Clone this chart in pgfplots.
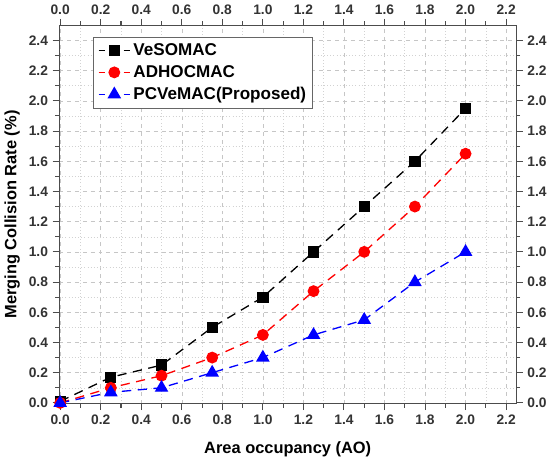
\documentclass[border=0pt]{standalone}
\usepackage{pgfplots}
\pgfplotsset{compat=1.18}
\usepackage{fontspec}
\setmainfont{Liberation Sans}
\begin{document}
\begin{tikzpicture}
\pgfplotsset{
  common/.style={
    scale only axis,
    width=348pt, height=288pt,
    xmin=-0.005, xmax=2.25, ymin=-0.005, ymax=2.5,
    xtick={0,0.2,...,2.21}, ytick={0,0.2,...,2.41},
    minor x tick num=1, minor y tick num=1,
    tick align=outside,
    major tick length=5pt, minor tick length=3pt,
    /pgf/number format/assume math mode=true,
    /pgf/number format/.cd, fixed, fixed zerofill, precision=1, /pgfplots/.cd,
    tick label style={font=\bfseries\fontsize{10.5}{12}\selectfont, text=black!80},
    axis line style={black!70, line width=0.9pt},
    tick style={black!70, line width=0.8pt},
  }
}
\begin{axis}[common,
  axis x line*=bottom, axis y line*=left,
  grid=both,
  major grid style={gray!45, dashed, line width=0.4pt},
  minor grid style={gray!35, dotted, line width=0.4pt},
  xlabel={\bfseries Area occupancy (AO)},
  ylabel={\bfseries Merging Collision Rate (\%)},
  label style={font=\bfseries\fontsize{12.5}{14}\selectfont},
  xlabel style={yshift=-6pt},
  ylabel style={yshift=0pt},
  legend style={at={(0.075,0.97)}, anchor=north west, draw=black!60, line width=0.6pt,
     font=\bfseries\fontsize{13}{15}\selectfont, row sep=2pt, inner sep=3pt},
  legend cell align=left,
  legend image code/.code={
    \draw[#1, solid, line width=1.2pt] (0pt,0pt) -- (5pt,0pt);
    \draw[#1, solid, line width=1.2pt] (19pt,0pt) -- (24pt,0pt);
    \draw[#1, draw=none] plot coordinates {(12pt,0pt)};
  },
]
\addplot[black, line width=1pt, dash pattern=on 7pt off 5pt, mark=square*, mark size=3.8pt, mark options={solid, fill=black}]
 coordinates {(0,0.01)(0.25,0.17)(0.5,0.25)(0.75,0.5)(1,0.7)(1.25,1.0)(1.5,1.3)(1.75,1.6)(2,1.95)};
\addlegendentry{VeSOMAC}
\addplot[red, line width=1pt, dash pattern=on 7pt off 5pt, mark=*, mark size=4pt, mark options={solid, fill=red}]
 coordinates {(0,0)(0.25,0.1)(0.5,0.18)(0.75,0.3)(1,0.45)(1.25,0.74)(1.5,1.0)(1.75,1.3)(2,1.65)};
\addlegendentry{ADHOCMAC}
\addplot[blue, line width=1pt, dash pattern=on 7pt off 5pt, mark=triangle*, mark size=5pt, mark options={solid, fill=blue}]
 coordinates {(0,0)(0.25,0.07)(0.5,0.1)(0.75,0.2)(1,0.3)(1.25,0.45)(1.5,0.55)(1.75,0.8)(2,1.0)};
\addlegendentry{PCVeMAC(Proposed)}
\end{axis}
\begin{axis}[common,
  axis x line*=top, axis y line*=right,
]
\addplot[draw=none] coordinates {(0,0)};
\end{axis}
\end{tikzpicture}
\end{document}
